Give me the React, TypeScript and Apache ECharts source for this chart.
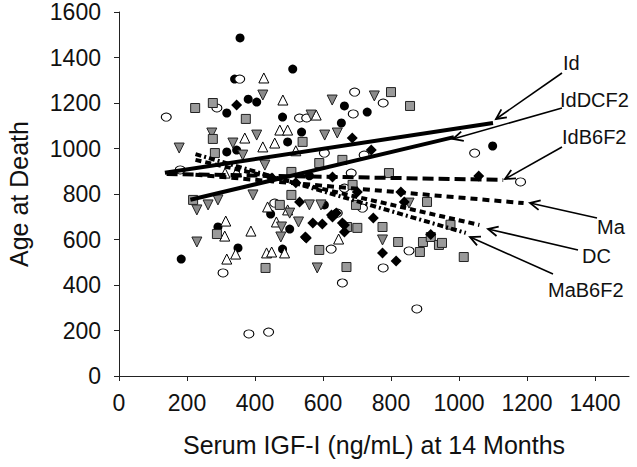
import React, { useEffect, useRef } from "react";
import * as echarts from "echarts";

const xTickValues = [0, 200, 400, 600, 800, 1000, 1200, 1400];
const yTickValues = [0, 200, 400, 600, 800, 1000, 1200, 1400, 1600];
const xAxisTitle = "Serum IGF-I (ng/mL) at 14 Months";
const yAxisTitle = "Age at Death";

// scatter values [IGF-I, age at death]
const blackCirclePts = [
  [356, 1486], [511, 1349], [340, 1305], [380, 1217], [405, 1204], [663, 1187], [730, 1160],
  [317, 1156], [481, 1138], [654, 1112], [537, 1072], [496, 1029], [317, 985], [346, 993],
  [1099, 1011], [183, 514], [350, 563], [291, 655], [481, 558], [446, 712], [502, 646],
  [604, 752], [560, 880],
];
const openEllipsePts = [
  [355, 1305], [693, 1248], [689, 1152], [288, 1178], [139, 1138], [531, 1134], [552, 1134],
  [604, 980], [721, 971], [180, 906], [458, 760], [642, 716], [624, 558], [657, 409],
  [382, 185], [440, 193], [777, 475], [853, 550], [876, 295], [777, 1200], [1046, 980],
  [1181, 853], [683, 892], [663, 826], [716, 738], [306, 453],
];
const openTrianglePts = [
  [426, 1310], [482, 1213], [580, 1147], [473, 1081], [496, 1081], [370, 1046], [423, 1007],
  [458, 1024], [314, 681], [311, 615], [317, 514], [343, 536], [388, 637], [434, 541],
  [449, 545], [487, 541], [437, 743], [463, 677], [646, 602], [312, 892], [346, 897],
  [496, 730], [520, 990],
];
const grayInvTrianglePts = [
  [423, 1235], [751, 1231], [627, 1213], [565, 1147], [273, 1068], [605, 1059], [642, 1068],
  [177, 1002], [405, 1059], [335, 1024], [364, 971], [229, 730], [262, 752], [291, 774],
  [560, 752], [594, 752], [229, 589], [478, 655], [476, 611], [502, 716], [528, 677],
  [583, 475], [775, 598], [853, 760], [429, 927], [394, 796],
];
const graySquarePts = [
  [224, 1178], [276, 1200], [373, 1130], [276, 1042], [282, 980], [657, 950], [589, 936],
  [507, 796], [473, 752], [697, 752], [218, 774], [288, 624], [431, 475], [671, 655],
  [701, 651], [589, 554], [669, 479], [775, 655], [821, 589], [885, 545], [894, 589],
  [917, 611], [941, 576], [950, 585], [1014, 523], [906, 765], [800, 1248], [856, 1187],
  [540, 1029], [794, 892], [975, 665], [687, 840], [507, 897],
];
const blackDiamondPts = [
  [346, 1191], [686, 1046], [742, 993], [639, 716], [531, 765], [570, 672], [598, 668],
  [548, 611], [625, 708], [657, 672], [748, 694], [775, 541], [815, 506], [917, 622],
  [1058, 879], [628, 875], [701, 809], [829, 809], [839, 765], [628, 699], [663, 664],
  [551, 607], [663, 633], [450, 870], [520, 850],
];

// regression lines (start, end)
const lineId = [[135, 893], [1100, 1112]];
const lineIdDCF2 = [[210, 775], [985, 1050]];
const lineIdB6F2 = [[140, 888], [1130, 862]];
const lineMa = [[225, 885], [1190, 760]];
const lineDC = [[225, 950], [1060, 664]];
const lineMaB6F2 = [[225, 975], [1020, 629]];

const strainNames = ["Id", "IdDCF2", "IdB6F2", "Ma", "DC", "MaB6F2"];

// annotation layout in pixels: label anchor, arrow tail, arrow tip
const labelPos = [[563, 63], [560, 100], [562, 137], [597, 227], [582, 256], [548, 290]];
const arrowTail = [[562, 73], [562, 108], [562, 147], [597, 218], [578, 250], [553, 274]];
const arrowTip = [[496, 119], [453, 139], [505, 179], [530, 203], [488, 229], [470, 237]];

export default function App() {
  const ref = useRef<HTMLDivElement>(null);
  useEffect(() => {
    document.body.style.margin = "0";
    const chart = echarts.init(ref.current!, null, { renderer: "svg" });
    const font = "'Liberation Sans', Arial, sans-serif";

    const scatter = (name: string, data: number[][], symbol: string, size: any, color: string, border: string | null, rotate = 0) => ({
      type: "scatter",
      name,
      data,
      symbol,
      symbolSize: size,
      symbolRotate: rotate,
      itemStyle: { color, borderColor: border || color, borderWidth: border ? 1 : 0, opacity: 1 },
      z: 2,
      silent: true,
    });
    const reg = (name: string, data: number[][], type: any) => ({
      type: "line",
      name,
      data,
      symbol: "none",
      lineStyle: { color: "#000", width: 4, type, cap: "butt" },
      z: 5,
      silent: true,
    });

    chart.setOption({
      animation: false,
      backgroundColor: "#fff",
      textStyle: { fontFamily: font },
      grid: { left: 119, right: 8, top: 12, bottom: 91, outerBoundsMode: "none" },
      xAxis: {
        type: "value",
        min: 0,
        max: 1500,
        interval: 200,
        name: xAxisTitle,
        nameLocation: "middle",
        nameGap: 56,
        nameTextStyle: { fontSize: 25, color: "#111", fontFamily: font },
        axisLine: { lineStyle: { color: "#222", width: 1 } },
        axisTick: { show: true, length: 5, inside: false, customValues: xTickValues, lineStyle: { color: "#222" } },
        axisLabel: { customValues: xTickValues, formatter: (v: number) => String(v), fontSize: 23, color: "#111", margin: 15, fontFamily: font },
        splitLine: { show: false },
      },
      yAxis: {
        type: "value",
        min: 0,
        max: 1600,
        interval: 200,
        name: yAxisTitle,
        nameLocation: "middle",
        nameGap: 88,
        nameTextStyle: { fontSize: 25, color: "#111", fontFamily: font },
        axisLine: { show: true, lineStyle: { color: "#222", width: 1 } },
        axisTick: { show: true, length: 5, customValues: yTickValues, lineStyle: { color: "#222" } },
        axisLabel: { customValues: yTickValues, formatter: (v: number) => String(v), fontSize: 23, color: "#111", margin: 18, fontFamily: font },
        splitLine: { show: false },
      },
      series: [
        scatter("Id points", blackCirclePts, "circle", 9, "#000", null),
        scatter("DC points", openEllipsePts, "circle", [10, 8], "#fff", "#000"),
        scatter("IdDCF2 points", openTrianglePts, "triangle", 10, "#fff", "#000"),
        scatter("Ma points", grayInvTrianglePts, "triangle", 10, "#8a8a8a", "#222", 180),
        scatter("MaB6F2 points", graySquarePts, "rect", 9, "#9a9a9a", "#222"),
        scatter("IdB6F2 points", blackDiamondPts, "diamond", 11, "#000", null),
        reg(strainNames[0], lineId, "solid"),
        reg(strainNames[1], lineIdDCF2, "solid"),
        reg(strainNames[2], lineIdB6F2, [11, 5]),
        reg(strainNames[3], lineMa, [7, 5]),
        reg(strainNames[4], lineDC, [6, 4]),
        reg(strainNames[5], lineMaB6F2, [6, 3, 2, 3]),
      ],
    });

    const graphics: any[] = [];
    strainNames.forEach((name, i) => {
      const [tx, ty] = arrowTail[i];
      const [px, py] = arrowTip[i];
      const dx = px - tx, dy = py - ty;
      const len = Math.hypot(dx, dy);
      const ux = dx / len, uy = dy / len;
      const L = 11, a = (26 * Math.PI) / 180;
      const arm = (s: number) => [
        px - L * (ux * Math.cos(a) - s * uy * Math.sin(a)),
        py - L * (uy * Math.cos(a) + s * ux * Math.sin(a)),
      ];
      graphics.push({
        type: "line",
        shape: { x1: tx, y1: ty, x2: px, y2: py },
        style: { stroke: "#000", lineWidth: 1.6 },
        z: 10,
        silent: true,
      });
      graphics.push({
        type: "polyline",
        shape: { points: [arm(1), [px, py], arm(-1)] },
        style: { stroke: "#000", lineWidth: 1.8, fill: null },
        z: 10,
        silent: true,
      });
      graphics.push({
        type: "text",
        x: labelPos[i][0],
        y: labelPos[i][1],
        style: { text: name, fontSize: 20, fontFamily: font, fill: "#111", textAlign: "left", textVerticalAlign: "middle" },
        z: 10,
        silent: true,
      });
    });
    chart.setOption({ graphic: graphics });

    return () => chart.dispose();
  }, []);
  return <div ref={ref} style={{ width: 637, height: 467 }} />;
}
